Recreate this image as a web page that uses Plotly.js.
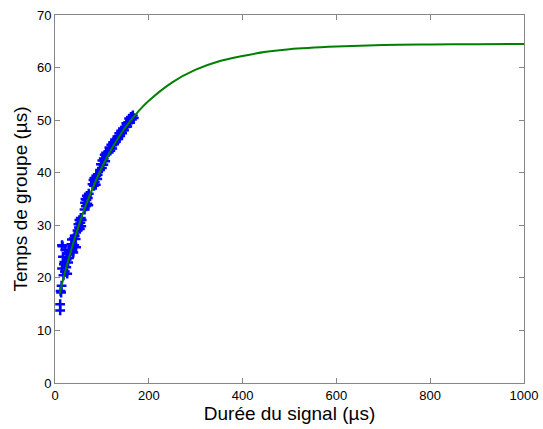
<!DOCTYPE html>
<html>
<head>
<meta charset="utf-8">
<script src="https://cdn.plot.ly/plotly-3.0.1.min.js"></script>
<style>html,body{margin:0;padding:0;background:#fff;}#chart{width:543px;height:429px;}</style>
</head>
<body>
<div id="chart"></div>
<script>
// Measured points (signal duration, group delay)
const measX = [11,11,12,13,14,15,16,15,17,18,19,20,21,22,
  24,25,26,27,28,29,30,31,
  33,35,36,38,39,40,41,42,44,45,
  48,50,51,52,53,54,55,56,57,
  63,64,65,66,67,68,69,70,71,72,
  80,82,83,84,85,86,87,88,90,91,
  96,98,100,101,103,104,106,107,109,
  114,116,118,120,122,124,126,128,130,
  133,135,137,139,141,143,145,147,
  150,152,154,156,158,160,162,164,166,168];
const measY = [13.8,15.0,17.5,17.2,18.5,21.8,26.0,26.2,24.0,20.5,22.6,23.0,21.2,25.3,
  22.0,23.5,20.8,24.6,22.9,25.2,23.8,24.5,
  25.0,26.4,27.3,26.0,24.8,27.5,26.2,28.0,27.4,25.8,
  29.0,30.2,29.6,31.0,29.3,30.5,31.4,29.8,31.0,
  33.0,34.3,35.0,33.6,34.8,35.6,34.1,35.2,33.8,36.0,
  37.8,38.6,37.5,39.0,38.2,38.9,37.7,39.4,38.8,39.6,
  40.5,41.6,40.9,42.3,41.5,42.7,43.4,42.2,43.8,
  43.9,44.8,44.2,45.3,44.6,45.8,45.4,46.3,45.9,
  46.9,46.4,47.5,47.0,48.0,47.5,48.4,48.1,
  48.7,49.4,48.8,49.6,50.3,49.5,50.6,50.1,50.9,50.4];
// Fitted curve
const fitX = [10,20,40,60,80,100,120,150,180,200,250,300,350,400,450,500,600,700,800,900,1000];
const fitY = [17.0,20.6,26.9,32.4,37.0,41.0,44.4,48.6,51.9,53.7,57.2,59.6,61.2,62.2,63.0,63.5,64.0,64.3,64.4,64.45,64.5];
const xTicks = [0,200,400,600,800,1000];
const yTicks = [0,10,20,30,40,50,60,70];

const traces = [
  {x: measX, y: measY, type: 'scatter', mode: 'markers',
   marker: {symbol: 'cross-thin-open', size: 7, color: '#0000ff', line: {color: '#0000ff', width: 2.5}},
   showlegend: false},
  {x: fitX, y: fitY, type: 'scatter', mode: 'lines',
   line: {color: '#008000', width: 2, shape: 'spline', smoothing: 1},
   showlegend: false}
];
const axisCommon = {
  showline: true, linecolor: '#868686', linewidth: 1, mirror: 'ticks',
  ticks: 'inside', ticklen: 5, tickcolor: '#868686', showgrid: false, zeroline: false,
  tickfont: {family: 'Liberation Sans, Arial, sans-serif', size: 13, color: '#000'}
};
const layout = {
  width: 543, height: 429,
  margin: {l: 55, r: 19, t: 15, b: 46},
  paper_bgcolor: '#fff', plot_bgcolor: '#fff',
  xaxis: Object.assign({}, axisCommon, {range: [0, 1000], tickvals: xTicks, ticktext: xTicks.map(String),
    title: {text: 'Durée du signal (µs)', font: {family: 'Liberation Sans, Arial, sans-serif', size: 19, color: '#000'}, standoff: 2}}),
  yaxis: Object.assign({}, axisCommon, {range: [0, 70], tickvals: yTicks, ticktext: yTicks.map(String),
    title: {text: 'Temps de groupe (µs)', font: {family: 'Liberation Sans, Arial, sans-serif', size: 19, color: '#000'}, standoff: 4}})
};
Plotly.newPlot('chart', traces, layout, {displayModeBar: false, staticPlot: true});
</script>
</body>
</html>
